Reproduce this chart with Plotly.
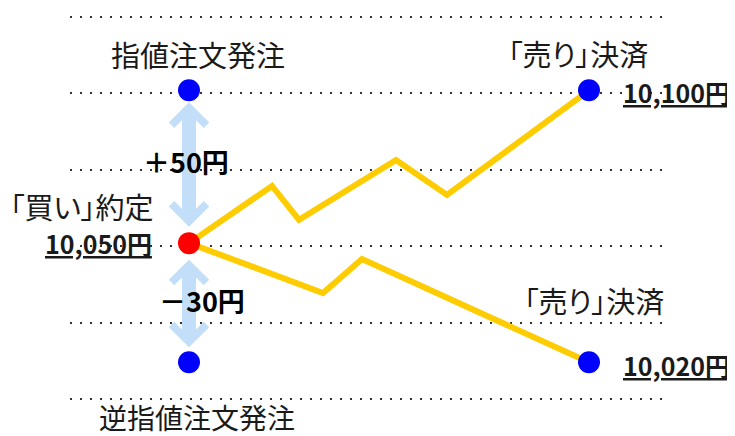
import plotly.graph_objects as go

# ---- data ----
grid_levels = [10000, 10025, 10050, 10075, 10100, 10125]

entry_t = 0
exit_t = 10
entry_price = 10051      # 「買い」約定 (drawn position)
limit_price = 10101      # 指値 (drawn position)
stop_price = 10012       # 逆指値 (drawn position)

up_t = [0, 2.075, 2.75, 5.175, 6.45, 10]
up_p = [10051, 10069.7, 10058.6, 10078.2, 10066.8, 10101]

down_t = [0, 3.35, 4.325, 10]
down_p = [10051, 10034.7, 10045.8, 10012]

label_limit_order = "指値注文発注"
label_stop_order = "逆指値注文発注"
label_buy = "「買い」約定"
label_sell = "「売り」決済"
label_entry_price = "10,050円"
label_limit_price = "10,100円"
label_stop_price = "10,020円"
label_plus = "＋50円"
label_minus = "－30円"

JP = "Noto Sans CJK JP"
YELLOW = "#FFCC00"
ARROW = "#c2def8"
TXT = "#1a1a1a"
PALT = "<span style='font-feature-settings:\"palt\"'>{}</span>"

fig = go.Figure()

fig.add_trace(go.Scatter(x=up_t, y=up_p, mode="lines",
                         line=dict(color=YELLOW, width=6), hoverinfo="skip"))
fig.add_trace(go.Scatter(x=down_t, y=down_p, mode="lines",
                         line=dict(color=YELLOW, width=6), hoverinfo="skip"))

fig.add_trace(go.Scatter(x=[entry_t, entry_t, exit_t, exit_t],
                         y=[limit_price, stop_price, up_p[-1], down_p[-1]],
                         mode="markers",
                         marker=dict(color="#0000FF", size=22, line=dict(width=0)),
                         hoverinfo="skip"))
fig.add_trace(go.Scatter(x=[entry_t], y=[entry_price], mode="markers",
                         marker=dict(color="#FF0000", size=22, line=dict(width=0)),
                         hoverinfo="skip"))

ann = []
# double-headed arrows
for target, so_end, so_start in [(limit_price, 12, 15), (stop_price, 15, 15)]:
    ann.append(dict(x=entry_t, y=target, ax=entry_t, ay=entry_price,
                    xref="x", yref="y", axref="x", ayref="y",
                    showarrow=True, arrowside="end+start",
                    arrowhead=4, startarrowhead=4,
                    arrowsize=0.48, startarrowsize=0.48,
                    arrowwidth=14, arrowcolor=ARROW,
                    standoff=so_end, startstandoff=so_start, text=""))

def lab(x, y, text, xs, ys, xanchor="center", size=29, color=TXT):
    ann.append(dict(x=x, y=y, xref="x", yref="y", text=text, showarrow=False,
                    xanchor=xanchor, yanchor="middle", xshift=xs, yshift=ys,
                    font=dict(family=JP, size=size, color=color)))

lab(entry_t, limit_price, label_limit_order, 9, 36)
lab(exit_t, up_p[-1], PALT.format(label_sell), -11, 37)
lab(exit_t, up_p[-1], "<b><u>" + label_limit_price + "</u></b>", 32, -2, xanchor="left", size=25)
lab(entry_t, entry_price, PALT.format(label_buy), -34, 37, xanchor="right")
lab(entry_t, entry_price, "<b><u>" + label_entry_price + "</u></b>", -35, 0, xanchor="right", size=25)
lab(entry_t, entry_price, "<b>" + label_plus + "</b>", -3, 82, size=27, color="#000")
lab(entry_t, entry_price, "<b>" + label_minus + "</b>", 13, -57, size=27, color="#000")
lab(exit_t, down_p[-1], PALT.format(label_sell), 5, 62)
lab(exit_t, down_p[-1], "<b><u>" + label_stop_price + "</u></b>", 32, -3, xanchor="left", size=25)
lab(entry_t, stop_price, label_stop_order, 8, -55, size=28)

# the page body adds an 8px margin, so the figure is 8px smaller than the window
fig.update_layout(
    width=727, height=428,
    margin=dict(l=62, r=71, t=2, b=30),
    paper_bgcolor="white", plot_bgcolor="white",
    showlegend=False,
    annotations=ann,
    xaxis=dict(range=[-2.975, 11.875], visible=False, fixedrange=True),
    yaxis=dict(range=[9997.71, 10127.29], tickvals=grid_levels,
               showticklabels=False, ticks="", showline=False, zeroline=False,
               showgrid=True, gridcolor="#333333", gridwidth=2, griddash="2px,8px",
               fixedrange=True),
)

fig.write_html("out.html", config={"displayModeBar": False})
